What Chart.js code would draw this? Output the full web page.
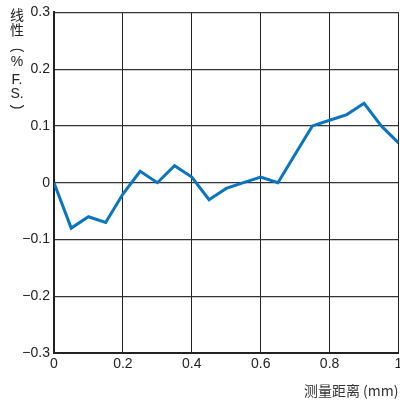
<!DOCTYPE html>
<html lang="zh">
<head>
    <meta charset="UTF-8">
    <title>线性</title>
    <script src="https://cdn.jsdelivr.net/npm/chart.js@4.4.1/dist/chart.umd.min.js"></script>
    <style>
        body {
            margin: 0;
            background: #fff;
        }
        .clip {
            width: 400px;
            height: 403px;
            overflow: hidden;
        }
        .chart-box {
            width: 420px;
            height: 403px;
            position: relative;
        }
    </style>
</head>
<body>
    <div class="clip">
        <div class="chart-box">
            <canvas id="lineChart"></canvas>
        </div>
    </div>

    <script>
        // measured distance (mm) and linearity (%F.S.)
        const distances = [0, 0.05, 0.1, 0.15, 0.2, 0.25, 0.3, 0.35, 0.4, 0.45, 0.5,
                           0.55, 0.6, 0.65, 0.7, 0.75, 0.8, 0.85, 0.9, 0.95, 1.0];
        const linearity = [0, -0.08, -0.06, -0.07, -0.02, 0.02, 0, 0.03, 0.01, -0.03, -0.01,
                           0, 0.01, 0, 0.05, 0.1, 0.11, 0.12, 0.14, 0.1, 0.07];

        const xTitle = '测量距离 (mm)';
        const yTitleParts = ['线', '性', '(', '%', 'F.', 'S.', ')'];

        const points = distances.map((d, i) => ({ x: d, y: linearity[i] }));

        function fmt(v) {
            if (Math.abs(v) < 1e-9) return '0';
            if (Math.abs(v - 1) < 1e-9) return '1';
            return (v < 0 ? '\u2212' : '') + Math.abs(v).toFixed(1);
        }

        const tickFont = { family: '"Liberation Sans", Arial, sans-serif', size: 14 };

        // vertical stacked y-axis title
        const yTitlePlugin = {
            id: 'yTitle',
            afterDraw(chart) {
                const ctx = chart.ctx;
                const ys = [15, 30, 50, 62, 80, 94, 107];
                ctx.save();
                ctx.fillStyle = '#222';
                ctx.textAlign = 'center';
                ctx.textBaseline = 'middle';
                yTitleParts.forEach((t, i) => {
                    if (t === '(' || t === ')') {
                        ctx.save();
                        ctx.translate(17, ys[i]);
                        ctx.rotate(Math.PI / 2);
                        ctx.font = '14px "Liberation Sans", Arial, sans-serif';
                        ctx.fillText(t, 0, 0);
                        ctx.restore();
                    } else if (/[\u4e00-\u9fff]/.test(t)) {
                        ctx.font = '14px "Noto Sans CJK SC", sans-serif';
                        ctx.fillText(t, 17, ys[i]);
                    } else {
                        ctx.font = '14px "Liberation Sans", Arial, sans-serif';
                        ctx.fillText(t, 17, ys[i]);
                    }
                });
                ctx.restore();
            }
        };

        const config = {
            type: 'line',
            data: {
                datasets: [{
                    data: points,
                    borderColor: '#0a74bd',
                    borderWidth: 3,
                    pointRadius: 0,
                    tension: 0,
                    fill: false
                }]
            },
            options: {
                responsive: true,
                maintainAspectRatio: false,
                animation: false,
                layout: { padding: { left: 0, top: 10, right: 21.5, bottom: 0 } },
                plugins: {
                    legend: { display: false },
                    tooltip: { enabled: false }
                },
                scales: {
                    x: {
                        type: 'linear',
                        min: 0,
                        max: 1,
                        afterFit: s => { s.height = 50; },
                        ticks: {
                            stepSize: 0.2,
                            padding: 3,
                            color: '#222',
                            font: tickFont,
                            maxRotation: 0,
                            callback: v => fmt(v)
                        },
                        grid: { color: '#222', lineWidth: 1, drawTicks: false },
                        border: { color: '#222', width: 2 },
                        title: {
                            display: true,
                            text: xTitle,
                            align: 'end',
                            color: '#333',
                            font: { family: '"Noto Sans CJK SC", "Liberation Sans", sans-serif', size: 14 },
                            padding: { top: 0, bottom: 4 }
                        }
                    },
                    y: {
                        min: -0.3,
                        max: 0.3,
                        afterFit: s => { s.width = 54; },
                        ticks: {
                            stepSize: 0.1,
                            padding: 4,
                            color: '#222',
                            font: tickFont,
                            callback: v => fmt(v)
                        },
                        grid: { color: '#333', lineWidth: 1.3, drawTicks: false },
                        border: { color: '#222', width: 2 }
                    }
                }
            },
            plugins: [yTitlePlugin]
        };

        new Chart(document.getElementById('lineChart'), config);
    </script>
</body>
</html>
